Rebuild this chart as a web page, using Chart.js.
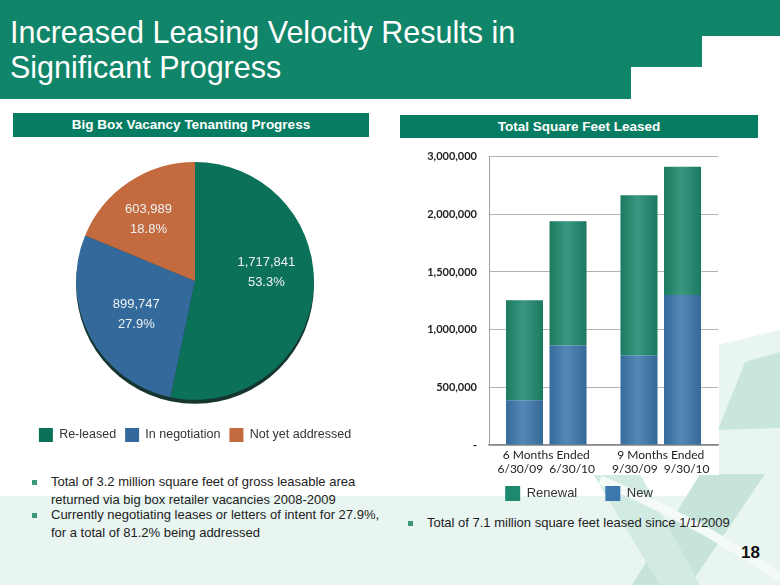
<!DOCTYPE html>
<html>
<head>
<meta charset="utf-8">
<script src="https://cdn.jsdelivr.net/npm/chart.js@4.4.0/dist/chart.umd.min.js"></script>
<style>
  body { margin: 0; width: 780px; height: 585px; position: relative; overflow: hidden; background: #fff; font-family: "Liberation Sans", Arial, sans-serif; }
  .abs { position: absolute; }
  #title { left: 10px; top: 15px; color: #fff; font-size: 30.5px; line-height: 35px; }
  .hdr { background: #067d62; color: #fff; font-weight: bold; font-size: 13.5px; text-align: center; }
  .bul { color: #222; font-size: 13px; line-height: 18px; }
  .bul i { position: absolute; left: -19px; top: 7px; width: 5px; height: 5px; background: #3a9a7a; }
</style>
</head>
<body>
<svg class="abs" style="left:0;top:0" width="780" height="585">
  <!-- background decoration -->
  <rect x="0" y="496" width="780" height="89" fill="#e9f5f1"/>
  <polygon points="718,345 780,330 780,496 718,496" fill="#e9f5f1"/>
  <polygon points="745,362 780,352 780,428 718,430" fill="#c9e6dc"/>
  <polygon points="700,474 765,474 690,585 632,585" fill="#c6e4d9"/>
  <polygon points="593,474 640,474 700,585 660,585" fill="#d2ebe2"/>
  <path d="M600,480 Q700,522 780,578" stroke="#f4faf8" stroke-width="9" fill="none"/>
  <!-- title band -->
  <path d="M0,0 H780 V36 H702 V67 H631 V99 H0 Z" fill="#118569"/>
  <!-- white chart panel -->
  <rect x="396" y="138" width="323" height="337" fill="#fff"/>
</svg>

<div id="title" class="abs">Increased Leasing Velocity Results in<br>Significant Progress</div>

<div class="abs hdr" style="left:13px;top:113px;width:356px;height:24px;line-height:24px;">Big Box Vacancy Tenanting Progress</div>
<div class="abs hdr" style="left:400px;top:115px;width:358px;height:23px;line-height:23px;">Total Square Feet Leased</div>

<div class="abs" style="left:15px;top:142px;width:360px;height:310px;"><canvas id="pie"></canvas></div>
<div class="abs" style="left:398px;top:138px;width:362px;height:373px;"><canvas id="bars"></canvas></div>

<div class="abs bul" style="left:51px;top:473px;width:330px;"><i></i>Total of 3.2 million square feet of gross leasable area returned via big box retailer vacancies 2008-2009</div>
<div class="abs bul" style="left:51px;top:506px;width:330px;"><i></i>Currently negotiating leases or letters of intent for 27.9%, for a total of 81.2% being addressed</div>
<div class="abs bul" style="left:427px;top:514px;width:340px;"><i></i>Total of 7.1 million square feet leased since 1/1/2009</div>
<div class="abs" style="left:741px;top:543px;font-weight:bold;font-size:17px;color:#111;">18</div>

<script>
// pie: big box vacancy tenanting progress
const pieLabels = ["Re-leased", "In negotiation", "Not yet addressed"];
const pieValues = [1717841, 899747, 603989];
const piePercents = ["53.3%", "27.9%", "18.8%"];
const pieColors = ["#0b7159", "#336a9b", "#c46a3f"];

// bars: total square feet leased
const periods = [["6 Months Ended", "6/30/09  6/30/10"], ["9 Months Ended", "9/30/09  9/30/10"]];
const newPrior = [387000, 775000];
const renewalPrior = [867000, 1389000];
const newCurrent = [862000, 1300000];
const renewalCurrent = [1078000, 1112000];
const yTickLabels = ["-", "500,000", "1,000,000", "1,500,000", "2,000,000", "3,000,000"];

const pieText = {
  id: "pieText",
  beforeDatasetsDraw(chart) {
    // dark rim under the pie
    let arc = chart.getDatasetMeta(0).data[0];
    let ctx = chart.ctx;
    ctx.save();
    ctx.fillStyle = "#16352f";
    ctx.beginPath();
    ctx.arc(arc.x, arc.y + 4, arc.outerRadius, 0, Math.PI * 2);
    ctx.fill();
    ctx.restore();
  },
  afterDatasetsDraw(chart) {
    let ctx = chart.ctx;
    ctx.save();
    ctx.fillStyle = "#eef2f2";
    ctx.font = '13px "Liberation Sans", Arial';
    ctx.textAlign = "center";
    ctx.textBaseline = "middle";
    chart.getDatasetMeta(0).data.forEach((arc, i) => {
      let mid = (arc.startAngle + arc.endAngle) / 2 - 0.12;
      let r = arc.outerRadius * 0.6;
      let x = arc.x + Math.cos(mid) * r;
      let y = arc.y + Math.sin(mid) * r - 7;
      ctx.fillText(pieValues[i].toLocaleString("en-US"), x, y - 10);
      ctx.fillText(piePercents[i], x, y + 10);
    });
    ctx.restore();
  }
};

// soft highlight down the middle of each bar, like the rounded look of the original
const barSheen = {
  id: "barSheen",
  afterDatasetsDraw(chart) {
    let ctx = chart.ctx;
    ctx.save();
    chart.data.datasets.forEach((ds, di) => {
      chart.getDatasetMeta(di).data.forEach((bar) => {
        let left = bar.x - bar.width / 2;
        let g = ctx.createLinearGradient(left, 0, left + bar.width, 0);
        g.addColorStop(0, "rgba(0,0,0,0.10)");
        g.addColorStop(0.45, "rgba(255,255,255,0.12)");
        g.addColorStop(1, "rgba(0,0,0,0.12)");
        ctx.fillStyle = g;
        ctx.fillRect(left, Math.min(bar.y, bar.base), bar.width, Math.abs(bar.base - bar.y));
      });
    });
    ctx.restore();
  }
};

new Chart(document.getElementById("pie"), {
  type: "pie",
  data: {
    labels: pieLabels,
    datasets: [{ data: pieValues, backgroundColor: pieColors, borderWidth: 0 }]
  },
  options: {
    responsive: true,
    maintainAspectRatio: false,
    animation: false,
    layout: { padding: { top: 20, bottom: 0 } },
    plugins: {
      legend: {
        position: "bottom",
        title: { display: true, text: "", font: { size: 1 }, padding: { top: 0, bottom: 18 } },
        labels: { boxWidth: 14, boxHeight: 14, padding: 9, color: "#333", font: { family: "Liberation Sans", size: 12.5 } }
      },
      tooltip: { enabled: false }
    }
  },
  plugins: [pieText]
});

const green = "#1e8a6d";
const blue = "#3c78ad";

new Chart(document.getElementById("bars"), {
  type: "bar",
  data: {
    labels: periods,
    datasets: [
      { label: "New", data: newPrior, backgroundColor: blue, stack: "prior" },
      { label: "Renewal", data: renewalPrior, backgroundColor: green, stack: "prior" },
      { label: "New", data: newCurrent, backgroundColor: blue, stack: "current" },
      { label: "Renewal", data: renewalCurrent, backgroundColor: green, stack: "current" }
    ]
  },
  options: {
    responsive: true,
    maintainAspectRatio: false,
    animation: false,
    categoryPercentage: 0.76,
    barPercentage: 0.85,
    layout: { padding: { top: 12, right: 0 } },
    scales: {
      x: {
        stacked: true,
        grid: { display: false, drawTicks: false },
        border: { color: "#8a8a8a", width: 1.5 },
        ticks: { color: "#222", padding: 4, font: { family: "Lato", size: 12, lineHeight: 1.1 } },
        afterFit(scale) { scale.height = 31; }
      },
      y: {
        stacked: true,
        min: 0,
        max: 2500000,
        grid: { color: "#b3b3b3", drawTicks: false },
        border: { color: "#a0a0a0" },
        ticks: {
          stepSize: 500000,
          padding: 12,
          color: "#222",
          font: { family: "Lato", size: 11, weight: "bold" },
          callback: (v, i) => yTickLabels[i]
        },
        afterFit(scale) { scale.width = 91; }
      },
      // empty right-hand margin so the legend sits where the original has it
      side: {
        position: "right",
        grid: { display: false, drawTicks: false },
        border: { display: false },
        ticks: { display: false },
        afterFit(scale) { scale.width = 42; }
      }
    },
    plugins: {
      legend: {
        position: "bottom",
        labels: {
          boxWidth: 15, boxHeight: 15, padding: 10, color: "#333",
          font: { family: "Liberation Sans", size: 13 },
          filter: (item) => item.datasetIndex >= 2,
          sort: (a, b) => b.datasetIndex - a.datasetIndex,
          generateLabels(chart) {
            let items = Chart.defaults.plugins.legend.labels.generateLabels(chart);
            items.forEach((it) => { if (it.text === "Renewal") it.text = "Renewal     "; });
            return items;
          }
        }
      },
      tooltip: { enabled: false }
    }
  },
  plugins: [barSheen]
});
</script>
</body>
</html>
